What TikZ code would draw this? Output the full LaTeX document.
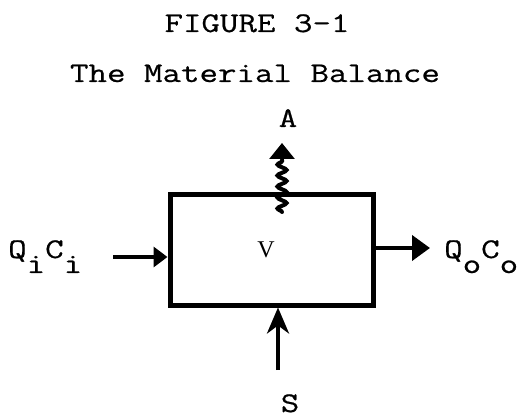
\documentclass[tikz,border=0pt]{standalone}
\usepackage{fontspec}
\setmainfont{Liberation Serif}
\newfontfamily\tw{Latin Modern Mono}[FakeStretch=1.26,FakeBold=0.6]
\usetikzlibrary{arrows.meta,decorations.pathmorphing}
\begin{document}
\begin{tikzpicture}[x=1pt,y=-1pt,
  lbl/.style={font=\tw\fontsize{28.5}{28.5}\selectfont, inner sep=0pt, anchor=base},
  flow/.style={line width=4pt},
  wall/.style={draw, line width=5pt, minimum width=203pt, minimum height=110pt, inner sep=0pt}]
\useasboundingbox (0,0) rectangle (529,419);
\node[lbl] (t1) at (257,32) {FIGURE 3-1};
\node[lbl] (t2) at (255,82) {The Material Balance};
\node[wall] (box) at (271.5,250) {};
\node[font=\fontsize{24}{24}\selectfont, inner sep=0pt, anchor=base] (v) at (266,258) {V};
\node[lbl] (a) at (288,127) {A};
\node[lbl] (s) at (290,412) {S};
\node[lbl, anchor=base west] (qi) at (8,258) {Q\raisebox{-15pt}{i}C\raisebox{-15pt}{i}};
\node[lbl, anchor=base west] (qo) at (444,258) {Q\raisebox{-15pt}{o}C\raisebox{-15pt}{o}};
\coordinate (inL) at (113,257);
\coordinate (outR) at (430,248);
\coordinate (botS) at (278,370);
\coordinate (topA) at (282,143);
\coordinate (coilLow) at (282,212);
\coordinate (coilHigh) at (282,160);
\draw[flow, -{Triangle[length=14pt,width=20pt]}] (inL) -- (inL -| box.west);
\draw[flow, -{Triangle[length=18pt,width=25pt]}] (box.east |- outR) -- (outR);
\draw[flow, -{Stealth[length=26pt,width=22pt,inset=8pt]}] (botS) -- (botS |- box.south);
\draw[line width=4pt, line cap=round, decorate, decoration={snake, amplitude=4.5pt, segment length=11pt}] (coilLow) -- (coilHigh);
\draw[line width=3pt, -{Triangle[length=16pt,width=25pt]}] (coilHigh) -- (topA);
\end{tikzpicture}
\end{document}
